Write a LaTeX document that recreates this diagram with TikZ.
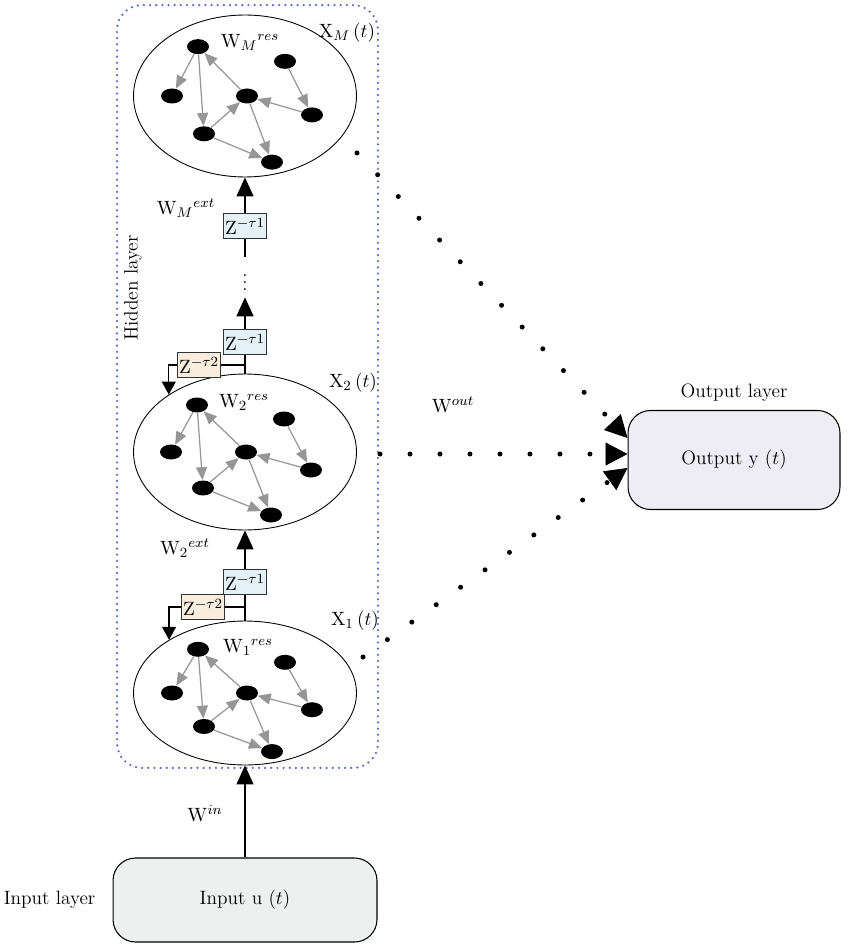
\documentclass[tikz,border=0pt]{standalone}
\usetikzlibrary{shapes,arrows.meta,positioning,calc}
\usepackage{xcolor}
\definecolor{hiddenblue}{RGB}{85,105,200}
\definecolor{delayblue}{RGB}{228,242,248}
\definecolor{delaypeach}{RGB}{249,237,222}
\definecolor{inputgray}{RGB}{238,240,239}
\definecolor{outputgray}{RGB}{238,237,244}
\definecolor{edgegray}{RGB}{150,150,150}

\newcommand{\resnet}[4]{%
  \begin{scope}[shift={(#2,#3)}, yscale=#4]
    \node[unit] (#1a) at (-48,-47) {};
    \node[unit] (#1b) at (-74,0) {};
    \node[unit] (#1c) at (1,0) {};
    \node[unit] (#1d) at (39,-33) {};
    \node[unit] (#1e) at (66,18) {};
    \node[unit] (#1f) at (-42,36) {};
    \node[unit] (#1g) at (26,63) {};
    \draw[resedge] (#1a) -- (#1b);
    \draw[resedge] (#1a) -- (#1f);
    \draw[resedge] (#1c) -- (#1a);
    \draw[resedge] (#1f) -- (#1c);
    \draw[resedge] (#1f) -- (#1g);
    \draw[resedge] (#1c) -- (#1g);
    \draw[resedge] (#1d) -- (#1e);
    \draw[resedge] (#1e) -- (#1c);
  \end{scope}}

\begin{document}
\begin{tikzpicture}[x=0.02cm, y=-0.02cm, font=\fontsize{11}{13}\selectfont,
    reservoir/.style={draw, ellipse, line width=0.5pt, minimum width=4.46cm},
    unit/.style={ellipse, fill=black, minimum width=0.44cm, minimum height=0.3cm, inner sep=0pt},
    resedge/.style={draw=edgegray, line width=0.7pt, -{Triangle[length=0.26cm,width=0.22cm]}},
    delay/.style={draw=black!80, line width=0.6pt, minimum width=0.68cm, minimum height=0.5cm, inner sep=1pt},
    spine/.style={line width=0.7pt},
    uparrow/.style={spine, -{Triangle[length=0.38cm,width=0.34cm]}},
    fbarrow/.style={spine, -{Triangle[length=0.26cm,width=0.28cm]}},
    layerbox/.style={draw, rounded corners=0.45cm, line width=0.6pt},
    readout/.style={line width=0.1cm, line cap=round, dash pattern=on 0pt off 0.6cm,
      -{Triangle[length=0.44cm,width=0.46cm,line width=0.4pt]}}]
    \useasboundingbox (0,0) rectangle (852,945);

    \node[draw=hiddenblue, line width=1.4pt, line cap=round, dash pattern=on 0pt off 3.5pt,
      rounded corners=0.5cm, minimum width=5.22cm, minimum height=15.26cm] (hidden) at (247.5,386.5) {};
    \node[rotate=90] (hiddenlabel) at (133,288) {Hidden layer};

    \node[reservoir, minimum height=3.24cm] (resM) at (245,96) {};
    \node[reservoir, minimum height=3.12cm] (res2) at (245,452) {};
    \node[reservoir, minimum height=2.88cm] (res1) at (245,693) {};
    \resnet{m}{246}{96}{1.05}
    \resnet{s}{245}{452}{1}
    \resnet{f}{246}{693}{0.93}

    \node (wresM) at (250,42) {$\mathrm{W}_{M}{}^{res}$};
    \node (xM) at (347,33) {$\mathrm{X}_{M}\,(t)$};
    \node (wres2) at (244,402) {$\mathrm{W}_{2}{}^{res}$};
    \node (x2) at (353,383) {$\mathrm{X}_{2}\,(t)$};
    \node (wres1) at (248,647) {$\mathrm{W}_{1}{}^{res}$};
    \node (x1) at (355,621) {$\mathrm{X}_{1}\,(t)$};
    \node (wextM) at (186,208) {$\mathrm{W}_{M}{}^{ext}$};
    \node (wext2) at (185,548) {$\mathrm{W}_{2}{}^{ext}$};
    \node (win) at (205,813) {$\mathrm{W}^{in}$};
    \node (wout) at (453,405) {$\mathrm{W}^{out}$};

    \node[delay, fill=delayblue] (d1) at (245,582) {$\mathrm{Z}^{-\tau 1}$};
    \node[delay, fill=delaypeach] (f1) at (203,607) {$\mathrm{Z}^{-\tau 2}$};
    \node[delay, fill=delayblue] (d2) at (245,342) {$\mathrm{Z}^{-\tau 1}$};
    \node[delay, fill=delaypeach] (f2) at (199,365) {$\mathrm{Z}^{-\tau 2}$};
    \node[delay, fill=delayblue] (dM) at (245,226) {$\mathrm{Z}^{-\tau 1}$};
    \node[inner sep=0pt, minimum height=0.8cm] (vdots) at (245,277) {$\vdots$};

    \node[layerbox, fill=inputgray, minimum width=5.28cm, minimum height=1.68cm] (input) at (245,900) {Input u ($t$)};
    \node[left=0.22cm of input] (inlabel) {Input layer};
    \node[layerbox, fill=outputgray, minimum width=4.24cm, minimum height=1.98cm] (output) at (734,460) {Output y ($t$)};
    \node[above=0.05cm of output] (outlabel) {Output layer};

    \coordinate (j1) at (245,607);
    \coordinate (j2) at (245,365);
    \draw[uparrow] (input.north) -- (res1.south);
    \draw[spine] (res1.north) -- (d1.south);
    \draw[spine] (j1) -- (f1.east);
    \draw[fbarrow] (f1.west) -| (res1.145);
    \draw[uparrow] (d1.north) -- (res2.south);
    \draw[spine] (res2.north) -- (d2.south);
    \draw[spine] (j2) -- (f2.east);
    \draw[fbarrow] (f2.west) -| (res2.143);
    \draw[uparrow] (d2.north) -- (vdots.south);
    \draw[spine] (vdots.north) -- (dM.south);
    \draw[uparrow] (dM.north) -- (resM.south);

    \coordinate (oM) at (357,153);
    \coordinate (o2) at (380,454);
    \coordinate (o1) at (363,657);
    \draw[readout] (oM) -- ([yshift=0.44cm]output.west);
    \draw[readout] (o2) -- ([yshift=0.12cm]output.west);
    \draw[readout] (o1) -- ([yshift=-0.16cm]output.west);
\end{tikzpicture}
\end{document}
